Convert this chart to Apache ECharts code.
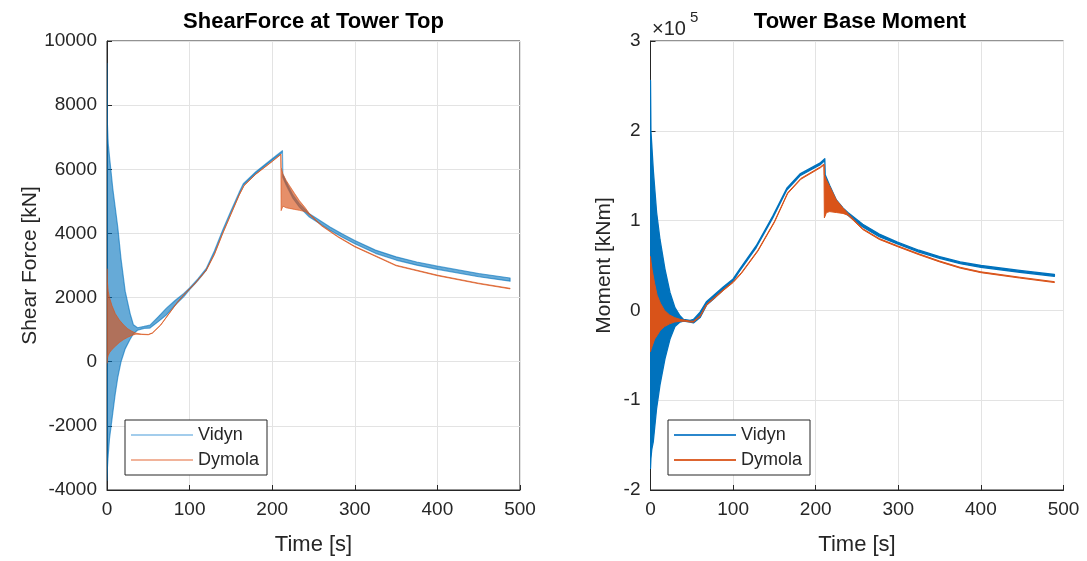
<!DOCTYPE html>
<html>
<head>
<meta charset="utf-8">
<script src="https://cdn.jsdelivr.net/npm/echarts@6/dist/echarts.min.js"></script>
<style>
html,body{margin:0;padding:0;background:#fff;}
#c{width:1087px;height:561px;}
</style>
</head>
<body>
<div id="c"></div>
<script>
// ---------- Left: Shear force at tower top [kN] (envelopes of the oscillating signals) ----------
const tL_V  = [0, 0.5, 1.5, 3, 5, 7, 10, 13, 17, 22, 28, 32, 37, 45, 52, 62, 72, 82, 93, 100, 110, 120, 130, 140, 150, 160, 165, 180, 200, 212.4, 212.8, 217, 225, 233, 245, 255, 270, 285, 300, 325, 350, 375, 400, 450, 488];
const upL_V = [9300, 7400, 6800, 6400, 5900, 5400, 4800, 4200, 3200, 2200, 1500, 1150, 1060, 1100, 1140, 1400, 1670, 1900, 2130, 2300, 2580, 2900, 3450, 4100, 4700, 5280, 5550, 5920, 6330, 6580, 5850, 5600, 5200, 4920, 4610, 4450, 4200, 3980, 3780, 3480, 3270, 3110, 2980, 2750, 2610];
const loL_V = [-3700, -3300, -2900, -2400, -2000, -1600, -1000, -500, 0, 400, 700, 870, 980, 1040, 1050, 1250, 1460, 1750, 2030, 2250, 2530, 2850, 3400, 4050, 4650, 5230, 5500, 5870, 6280, 6520, 5750, 5500, 5100, 4820, 4510, 4350, 4100, 3880, 3680, 3380, 3170, 3010, 2880, 2650, 2510];

const tL_D  = [0, 0.4, 1.5, 3, 6, 10, 15, 20, 25, 30, 35, 42, 50, 55, 65, 75, 85, 95, 105, 120, 130, 140, 150, 160, 166, 180, 200, 210.5, 210.8, 213, 217, 221, 227, 233, 240, 245, 260, 280, 300, 350, 400, 450, 488];
const upL_D = [2900, 2500, 2200, 2000, 1750, 1500, 1300, 1150, 1030, 950, 890, 860, 850, 900, 1150, 1500, 1850, 2150, 2400, 2850, 3350, 4000, 4600, 5200, 5500, 5850, 6250, 6470, 6060, 5850, 5650, 5490, 5250, 5020, 4800, 4620, 4250, 3900, 3600, 3010, 2700, 2450, 2290];
const loL_D = [-50, 100, 200, 280, 380, 480, 600, 690, 760, 820, 860, 850, 840, 890, 1140, 1490, 1840, 2140, 2390, 2840, 3340, 3990, 4590, 5190, 5490, 5840, 6240, 6460, 4710, 4850, 4800, 4780, 4750, 4720, 4680, 4580, 4230, 3880, 3580, 2990, 2680, 2430, 2270];

// ---------- Right: Tower base moment [x1e5 kNm] ----------
const tR_V  = [0, 0.5, 1.5, 3.4, 7.4, 11.5, 17.5, 23.6, 29.6, 35.7, 40, 48, 52, 60, 68, 78, 88, 100, 108, 128, 148, 165, 181, 205, 211, 211.5, 217, 225, 233, 239, 257, 277, 299, 325, 350, 375, 400, 447, 489];
const upR_V = [2.56, 2.0, 1.85, 1.56, 1.09, 0.79, 0.46, 0.20, 0.03, -0.06, -0.10, -0.11, -0.10, -0.02, 0.10, 0.18, 0.26, 0.35, 0.46, 0.72, 1.05, 1.36, 1.52, 1.64, 1.69, 1.51, 1.39, 1.23, 1.14, 1.09, 0.96, 0.85, 0.76, 0.67, 0.60, 0.54, 0.50, 0.445, 0.40];
const loR_V = [-1.76, -1.65, -1.55, -1.46, -1.09, -0.83, -0.54, -0.32, -0.18, -0.13, -0.12, -0.13, -0.14, -0.08, 0.06, 0.14, 0.23, 0.33, 0.44, 0.70, 1.03, 1.34, 1.50, 1.62, 1.67, 1.48, 1.36, 1.20, 1.11, 1.06, 0.93, 0.82, 0.74, 0.65, 0.58, 0.52, 0.48, 0.425, 0.38];

const tR_D  = [0, 0.5, 2, 5, 8, 12, 17, 23, 29, 36, 42, 48, 52, 60, 68, 78, 88, 100, 110, 130, 150, 166, 182, 206, 210, 210.5, 213, 217, 225, 233, 239, 257, 277, 299, 325, 350, 375, 400, 447, 489];
const upR_D = [0.60, 0.55, 0.45, 0.30, 0.17, 0.08, 0.0, -0.05, -0.08, -0.10, -0.11, -0.12, -0.12, -0.06, 0.07, 0.15, 0.23, 0.32, 0.42, 0.67, 0.99, 1.31, 1.47, 1.60, 1.63, 1.51, 1.45, 1.38, 1.23, 1.14, 1.08, 0.91, 0.80, 0.72, 0.63, 0.55, 0.48, 0.43, 0.37, 0.32];
const loR_D = [-0.46, -0.44, -0.40, -0.32, -0.28, -0.22, -0.18, -0.15, -0.13, -0.12, -0.12, -0.13, -0.13, -0.07, 0.06, 0.14, 0.22, 0.31, 0.41, 0.66, 0.98, 1.30, 1.46, 1.59, 1.62, 1.03, 1.09, 1.10, 1.09, 1.08, 1.06, 0.90, 0.79, 0.71, 0.62, 0.54, 0.47, 0.42, 0.36, 0.31];

const xTicks = [0, 100, 200, 300, 400, 500];
const yTicksL = [-4000, -2000, 0, 2000, 4000, 6000, 8000, 10000];
const yTicksR = [-2, -1, 0, 1, 2, 3];

const FONT = '"Liberation Sans", Arial, Helvetica, sans-serif';
const TXT = '#262626';

function band(name, t, up, lo, idx, color, lw) {
  const data = t.map((x, i) => [x, up[i], lo[i]]);
  return {
    type: 'custom', name, xAxisIndex: idx, yAxisIndex: idx, data,
    encode: { x: 0, y: [1, 2] }, clip: true, silent: true, animation: false,
    renderItem: (params, api) => {
      if (params.dataIndex !== 0) return null;
      const pts = [];
      for (let i = 0; i < t.length; i++) pts.push(api.coord([t[i], up[i]]));
      for (let i = t.length - 1; i >= 0; i--) pts.push(api.coord([t[i], lo[i]]));
      return { type: 'polygon', shape: { points: pts },
        style: { fill: color, stroke: color, lineWidth: lw, lineJoin: 'round' } };
    }
  };
}

function xAxis(idx) {
  return {
    type: 'value', gridIndex: idx, min: xTicks[0], max: xTicks[xTicks.length - 1], interval: 100,
    name: 'Time [s]', nameLocation: 'middle', nameGap: 44,
    nameTextStyle: { fontFamily: FONT, fontSize: 22, color: TXT },
    axisLine: { show: true, onZero: false, lineStyle: { color: TXT, width: 1 } },
    axisTick: { show: true, inside: true, length: 5, lineStyle: { color: TXT } },
    axisLabel: { fontFamily: FONT, fontSize: 19, color: TXT, margin: 10, formatter: v => String(v) },
    splitLine: { show: true, lineStyle: { color: '#e3e3e3', width: 1 } }
  };
}
function yAxis(idx, ticks, name, gap) {
  return {
    type: 'value', gridIndex: idx, min: ticks[0], max: ticks[ticks.length - 1], interval: ticks[1] - ticks[0],
    name, nameLocation: 'middle', nameGap: gap, nameRotate: 90,
    nameTextStyle: { fontFamily: FONT, fontSize: 21, color: TXT },
    axisLine: { show: true, onZero: false, lineStyle: { color: TXT, width: 1 } },
    axisTick: { show: true, inside: true, length: 5, lineStyle: { color: TXT } },
    axisLabel: { fontFamily: FONT, fontSize: 19, color: TXT, margin: 10, formatter: v => String(v) },
    splitLine: { show: true, lineStyle: { color: '#e3e3e3', width: 1 } }
  };
}
function legend(left, cV, cD) {
  return {
    orient: 'vertical', left, top: 420, icon: 'rect', itemWidth: 62, itemHeight: 2,
    itemGap: 7, padding: [6, 8, 6, 6], backgroundColor: '#fff',
    borderColor: TXT, borderWidth: 1, borderRadius: 0, selectedMode: false,
    textStyle: { fontFamily: FONT, fontSize: 18, color: TXT },
    data: [{ name: 'Vidyn', itemStyle: { color: cV } }, { name: 'Dymola', itemStyle: { color: cD } }]
  };
}

const chart = echarts.init(document.getElementById('c'), null, { renderer: 'canvas' });
chart.setOption({
  backgroundColor: '#fff',
  animation: false,
  grid: [
    { left: 107, top: 41, width: 413, height: 452, show: true, borderColor: TXT, borderWidth: 1, backgroundColor: 'transparent' },
    { left: 650.5, top: 41, width: 413, height: 452, show: true, borderColor: TXT, borderWidth: 1, backgroundColor: 'transparent' }
  ],
  xAxis: [xAxis(0), xAxis(1)],
  yAxis: [yAxis(0, yTicksL, 'Shear Force [kN]', 66), yAxis(1, yTicksR, 'Moment [kNm]', 36)],
  legend: [legend(125, '#a3cdec', '#f1b39a'), legend(668, '#2b87cc', '#dd6530')],
  graphic: [
    { type: 'text', x: 313.5, y: 22, style: { text: 'ShearForce at Tower Top', font: 'bold 22px ' + FONT, fill: '#000', textAlign: 'center', textVerticalAlign: 'middle' } },
    { type: 'text', x: 860, y: 22, style: { text: 'Tower Base Moment', font: 'bold 22px ' + FONT, fill: '#000', textAlign: 'center', textVerticalAlign: 'middle' } },
    { type: 'text', x: 652, y: 29, style: { text: '×10', font: '20px ' + FONT, fill: TXT, textAlign: 'left', textVerticalAlign: 'middle' } },
    { type: 'text', x: 690, y: 18, style: { text: '5', font: '15px ' + FONT, fill: TXT, textAlign: 'left', textVerticalAlign: 'middle' } }
  ],
  series: [
    band('Vidyn', tL_V, upL_V, loL_V, 0, 'rgba(0,114,189,0.6)', 1.2),
    band('Dymola', tL_D, upL_D, loL_D, 0, 'rgba(217,83,25,0.65)', 1.0),
    band('Vidyn', tR_V, upR_V, loR_V, 1, '#0072BD', 1.3),
    band('Dymola', tR_D, upR_D, loR_D, 1, '#D95319', 1.0)
  ]
});
</script>
</body>
</html>
